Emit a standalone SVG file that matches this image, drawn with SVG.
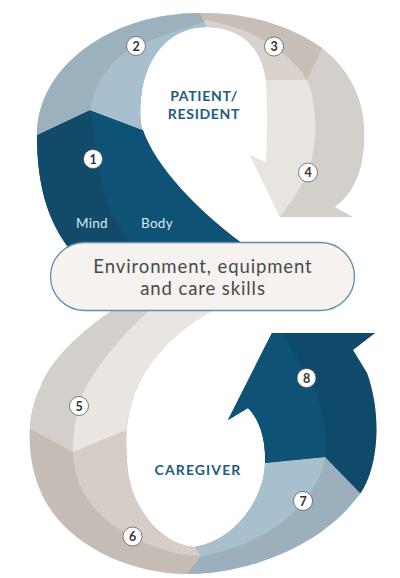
<svg xmlns="http://www.w3.org/2000/svg" width="400" height="578" viewBox="0 0 400 578">
<defs>
<style>
.badge circle{fill:#ffffff;stroke:#4a4a4a;stroke-width:0.7}
.badge text{font-family:"Lato","Liberation Sans",sans-serif;font-weight:700;font-size:12.5px;fill:#333333;text-anchor:middle}
.title{font-family:"Lato","Liberation Sans",sans-serif;font-weight:700;font-size:14px;letter-spacing:0.7px;fill:#1e5b82;text-anchor:middle}
.mb{font-family:"Lato","Liberation Sans",sans-serif;font-size:13.5px;letter-spacing:0.3px;fill:#dbe6ee;text-anchor:middle}
.boxt{font-family:"Lato","Liberation Sans",sans-serif;font-size:18.5px;letter-spacing:0.9px;fill:#4a4a4a;text-anchor:middle}
</style>
<clipPath id="topClip">
<path d="M72,252 C50,225 37,190 37,135 C37,67 110,13 200,13 C245,12 290,25 322,48 C345,66 362,92 364,125 C366,160 358,185 343,200 L335,207 L353,217 L280,217 L250,155 L266,163 C268,135 268,105 266,80 C262,45 238,27 207,27 C170,27 148,55 142,90 C139,110 140,125 143,130 C155,165 195,210 254,252 Z"/>
</clipPath>
<clipPath id="botClip">
<path d="M120,305 C90,325 52,355 40,388 C22,425 28,480 53,513 C80,550 135,574 187,574 C250,574 320,545 355,500 C377,478 384,420 367,373 L353,350 L375,333 L272,333 L228,420 L248,408 C260,420 266,440 265,463 C264,500 235,540 195,547 C160,545 128,505 127,460 C125,435 127,420 131,405 C140,370 170,330 225,304 Z"/>
</clipPath>
</defs>

<g id="patient-loop" clip-path="url(#topClip)">
<rect x="0" y="0" width="400" height="260" fill="#d3d0cc"/>
<path id="seg1-body" d="M0,150 L37,135 L90,110 L143,130 L200,140 L262,252 L0,260 Z" fill="#0e5275"/>
<path id="seg1-mind" d="M0,150 L37,135 L90,110 C96,140 98,180 108,205 C115,222 125,237 140,255 L0,260 Z" fill="#124a6a"/>
<path id="seg2-outer" d="M0,0 L194,0 L200,13 L207,27 L150,110 L143,130 L90,110 L37,135 L0,150 Z" fill="#9bb1be"/>
<path id="seg2-inner" d="M90,110 C95,80 115,55 137,46 C160,36 185,28 204,22 L207,27 L150,110 L143,130 Z" fill="#a8c0ce"/>
<path id="seg3-outer" d="M194,0 L344,0 L322,48 L307,80 L240,80 L207,27 Z" fill="#c8beb8"/>
<path id="seg3-inner" d="M204,20 C235,25 258,35 274,47 C290,58 300,68 307,80 L240,80 L207,27 Z" fill="#d9d1cb"/>
<path id="seg4-inner" d="M240,80 L307,80 C318,105 318,145 308,172 C300,190 290,203 280,217 L250,155 Z" fill="#e8e5e1"/>
</g>

<g id="caregiver-loop" clip-path="url(#botClip)">
<rect x="0" y="290" width="400" height="288" fill="#c5bcb6"/>
<path id="seg5-outer" d="M0,290 L222,290 L222,425 L127,430 L73,452 L10,418 L0,413 Z" fill="#d3cfcb"/>
<path id="seg7-outer" d="M180,600 L187,574 L201,556 L195,547 L200,470 L265,463 L325,457 L360,493 L400,515 L400,600 Z" fill="#9bb0bc"/>
<path id="seg8-outer" d="M224,300 L400,300 L400,515 L360,493 L325,457 L265,463 L224,463 Z" fill="#0f4a6a"/>
<path id="seg5-inner" d="M158,303 C128,328 98,362 82,395 C76,413 73,432 73,452 L127,430 L222,425 L222,290 L165,290 Z" fill="#e9e5e1"/>
<path id="seg6-inner" d="M73,452 C74,485 90,515 133,537 C155,549 180,556 201,556 L195,547 L200,470 L127,430 Z" fill="#d6cdc7"/>
<path id="seg7-inner" d="M201,556 C240,550 280,530 303,502 C315,488 323,472 325,457 L265,463 L200,470 L195,547 Z" fill="#a8c0cd"/>
<path id="seg8-inner" d="M325,457 C327,425 322,400 308,378 C300,362 290,345 280,330 L279,320 L224,320 L224,463 L265,463 Z" fill="#0e5275"/>
</g>

<g id="connectors"></g>

<g id="center-box">
<rect x="50.5" y="242.5" width="304" height="68" rx="34" ry="34" fill="#f5f2ef" stroke="#5f8fae" stroke-width="1.3"/>
<text class="boxt" x="203" y="272.5">Environment, equipment</text>
<text class="boxt" x="203" y="294.5">and care skills</text>
</g>

<g id="labels">
<text class="title" x="204" y="101">PATIENT/</text>
<text class="title" x="204" y="118.5">RESIDENT</text>
<text class="title" x="198" y="475" style="letter-spacing:1.1px">CAREGIVER</text>
<text class="mb" x="92" y="228">Mind</text>
<text class="mb" x="157" y="228">Body</text>
</g>

<g id="badge1" class="badge"><circle cx="93" cy="159" r="9.5"/><text x="93" y="163.5">1</text></g>
<g id="badge2" class="badge"><circle cx="136" cy="46" r="9.5"/><text x="136" y="50.5">2</text></g>
<g id="badge3" class="badge"><circle cx="274" cy="46.5" r="9.5"/><text x="274" y="51">3</text></g>
<g id="badge4" class="badge"><circle cx="308" cy="172.5" r="9.5"/><text x="308" y="177">4</text></g>
<g id="badge5" class="badge"><circle cx="79" cy="406" r="9.5"/><text x="79" y="410.5">5</text></g>
<g id="badge6" class="badge"><circle cx="132.5" cy="536.5" r="9.5"/><text x="132.5" y="541">6</text></g>
<g id="badge7" class="badge"><circle cx="303" cy="501" r="9.5"/><text x="303" y="505.5">7</text></g>
<g id="badge8" class="badge"><circle cx="306.5" cy="378" r="9.5"/><text x="306.5" y="382.5">8</text></g>
</svg>
